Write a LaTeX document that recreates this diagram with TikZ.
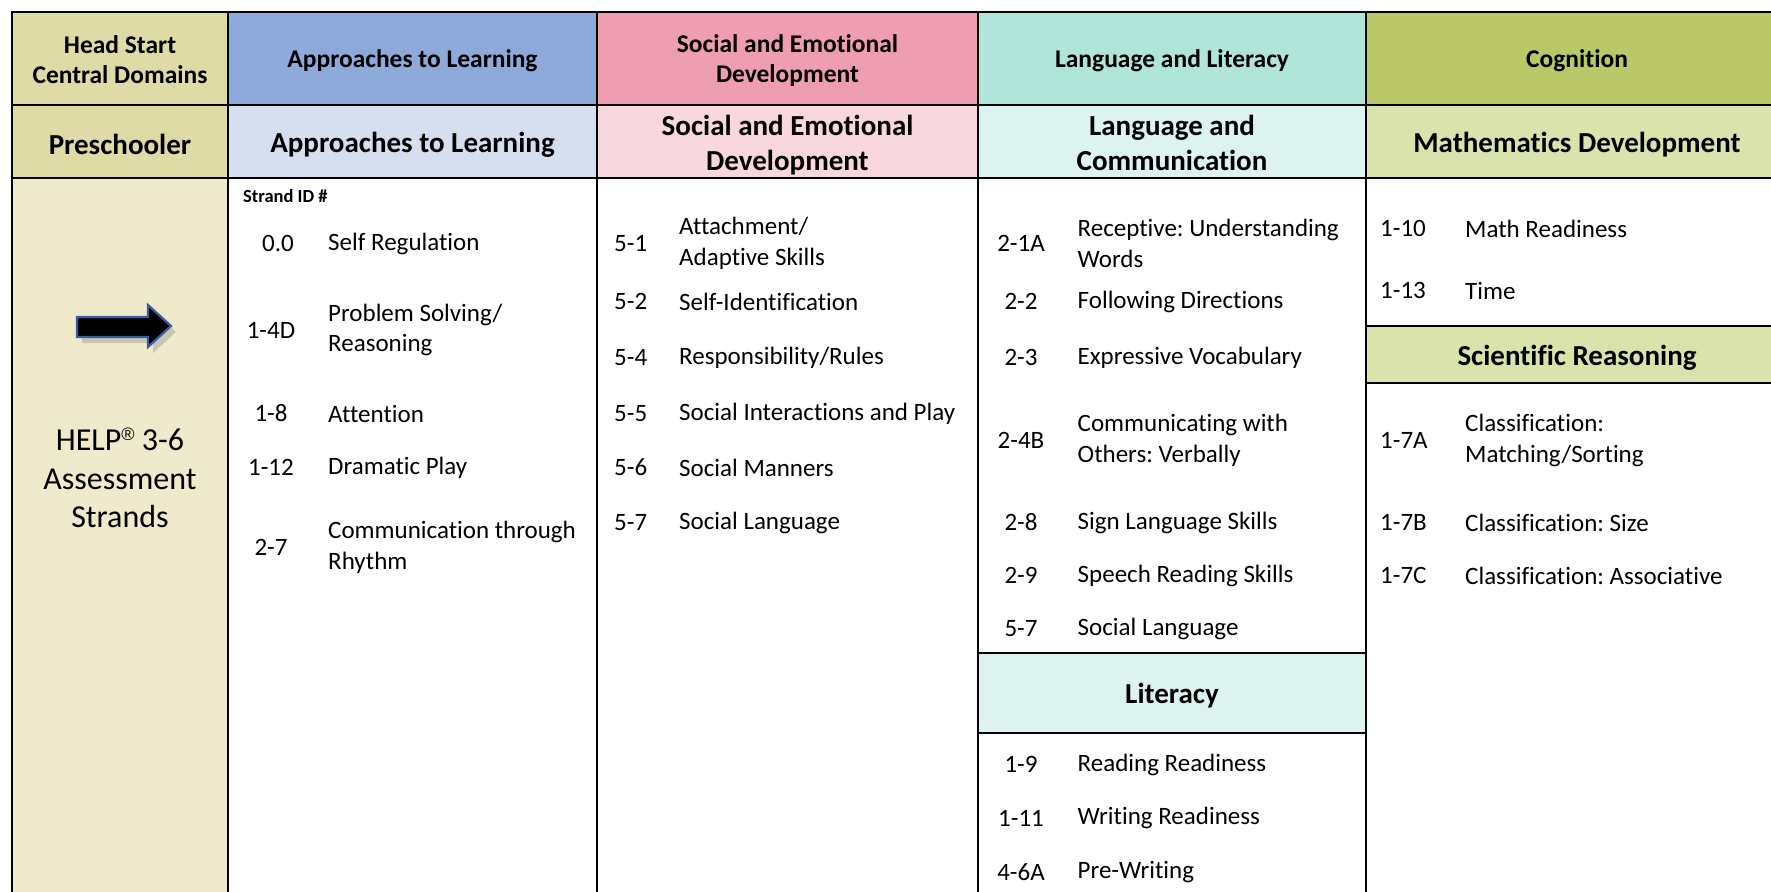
\documentclass[tikz,border=0pt]{standalone}
\usepackage{fontspec}
\setmainfont{Carlito}[Ligatures={NoCommon}]
\newfontfamily\regfont{Liberation Sans}
\frenchspacing
\definecolor{hsDark}{RGB}{223,219,166}
\definecolor{hsLight}{RGB}{238,234,203}
\definecolor{atlDark}{RGB}{142,170,219}
\definecolor{atlLight}{RGB}{214,223,240}
\definecolor{sedDark}{RGB}{239,157,176}
\definecolor{sedLight}{RGB}{248,215,223}
\definecolor{llDark}{RGB}{176,229,218}
\definecolor{llLight}{RGB}{220,243,239}
\definecolor{cogDark}{RGB}{187,200,103}
\definecolor{cogLight}{RGB}{219,227,173}
\definecolor{arrowBlue}{RGB}{58,92,160}
\newcommand{\mkcell}[8]{%
  \filldraw[grid, fill=#6] (#2,#3) rectangle (#4,#5);
  \node[ctext, #7] (#1) at ({(#2+#4)/2},{(#3+#5)/2}) {#8};}
\begin{document}
\begin{tikzpicture}[x=1pt,y=-1pt,
  grid/.style={draw=black, line width=2.2pt},
  ctext/.style={align=center, inner sep=0pt},
  hA/.style={font=\fontsize{25.5}{30.5}\selectfont\bfseries, yshift=-2pt},
  hB/.style={font=\fontsize{29}{35}\selectfont\bfseries, yshift=-3pt},
  sid/.style={inner sep=0pt, font=\fontsize{25}{30.5}\selectfont},
  stxt/.style={anchor=west, align=left, inner sep=0pt, font=\fontsize{25}{30.5}\selectfont}]
\useasboundingbox (0,0) rectangle (1771,891);
\fill[white] (0,0) rectangle (1771,891);
% header row 1
\mkcell{h1}{12}{12}{228}{105}{hsDark}{hA, yshift=1pt}{Head Start\\Central Domains}
\mkcell{h2}{228}{12}{597}{105}{atlDark}{hA}{Approaches to Learning}
\mkcell{h3}{597}{12}{978}{105}{sedDark}{hA}{Social and Emotional\\Development}
\mkcell{h4}{978}{12}{1366}{105}{llDark}{hA}{Language and Literacy}
\mkcell{h5}{1366}{12}{1788}{105}{cogDark}{hA}{Cognition}
% header row 2
\mkcell{p1}{12}{105}{228}{178}{hsDark}{hB}{Preschooler}
\mkcell{p2}{228}{105}{597}{178}{atlLight}{hB}{Approaches to Learning}
\mkcell{p3}{597}{105}{978}{178}{sedLight}{hB, yshift=-1pt}{Social and Emotional\\Development}
\mkcell{p4}{978}{105}{1366}{178}{llLight}{hB, yshift=1.5pt}{Language and\\Communication}
\mkcell{p5}{1366}{105}{1788}{178}{cogLight}{hB}{Mathematics Development}
% body
\filldraw[grid, fill=hsLight] (12,178) rectangle (228,900);
\filldraw[grid, fill=white] (228,178) rectangle (597,900);
\filldraw[grid, fill=white] (597,178) rectangle (978,900);
\filldraw[grid, fill=white] (978,178) rectangle (1366,900);
\filldraw[grid, fill=white] (1366,178) rectangle (1788,900);
\mkcell{sci}{1366}{326}{1788}{383}{cogLight}{hB}{Scientific Reasoning}
\mkcell{lit}{978}{653}{1366}{733}{llLight}{hB}{Literacy}
% column 1
\node[ctext, font=\fontsize{32}{38.5}\selectfont] (help) at (120,478) {HELP\raisebox{0.33em}{\regfont\fontsize{18}{18}\selectfont\textregistered} 3-6\\Assessment\\Strands};
\fill[black!55, opacity=0.3] (82,323) -- (153,323) -- (153,311) -- (176,332) -- (153,353) -- (153,343) -- (82,343) -- cycle;
\filldraw[draw=arrowBlue, line width=2.2pt, fill=black, line join=miter] (77,317) -- (148,317) -- (148,305) -- (171,326) -- (148,347) -- (148,337) -- (77,337) -- cycle;
\begin{scope}[yshift=-2.5pt]
% column 2
\node[anchor=west, inner sep=0pt, font=\fontsize{18.5}{22}\selectfont\bfseries] (sidh) at (243,194) {Strand ID \#};
\node[sid] (a1) at (278,241) {0.0};   \node[stxt] (a1t) at (328,241) {Self Regulation};
\node[sid] (a2) at (271,327.5) {1-4D}; \node[stxt] (a2t) at (328,327.5) {Problem Solving/\\Reasoning};
\node[sid] (a3) at (271,411) {1-8};   \node[stxt] (a3t) at (328,411) {Attention};
\node[sid] (a4) at (271,465) {1-12};  \node[stxt] (a4t) at (328,465) {Dramatic Play};
\node[sid] (a5) at (271,545) {2-7};   \node[stxt] (a5t) at (328,545) {Communication through\\Rhythm};
% column 3
\node[sid, anchor=west] (s1) at (614,241) {5-1}; \node[stxt] (s1t) at (679,241) {Attachment/\\Adaptive Skills};
\node[sid, anchor=west] (s2) at (614,299) {5-2}; \node[stxt] (s2t) at (679,299) {Self-Identification};
\node[sid, anchor=west] (s3) at (614,355) {5-4}; \node[stxt] (s3t) at (679,355) {Responsibility/Rules};
\node[sid, anchor=west] (s4) at (614,411) {5-5}; \node[stxt] (s4t) at (679,411) {Social Interactions and Play};
\node[sid, anchor=west] (s5) at (614,465) {5-6}; \node[stxt] (s5t) at (679,465) {Social Manners};
\node[sid, anchor=west] (s6) at (614,520) {5-7}; \node[stxt] (s6t) at (679,520) {Social Language};
% column 4
\node[sid] (l1) at (1021,241) {2-1A}; \node[stxt] (l1t) at (1077.5,241) {Receptive: Understanding\\Words};
\node[sid] (l2) at (1021,299) {2-2};  \node[stxt] (l2t) at (1077.5,299) {Following Directions};
\node[sid] (l3) at (1021,355) {2-3};  \node[stxt] (l3t) at (1077.5,355) {Expressive Vocabulary};
\node[sid] (l4) at (1021,438) {2-4B}; \node[stxt] (l4t) at (1077.5,438) {Communicating with\\Others: Verbally};
\node[sid] (l5) at (1021,520) {2-8};  \node[stxt] (l5t) at (1077.5,520) {Sign Language Skills};
\node[sid] (l6) at (1021,573) {2-9};  \node[stxt] (l6t) at (1077.5,573) {Speech Reading Skills};
\node[sid] (l7) at (1021,626) {5-7};  \node[stxt] (l7t) at (1077.5,626) {Social Language};
\node[sid] (l8) at (1021,762) {1-9};  \node[stxt] (l8t) at (1077.5,762) {Reading Readiness};
\node[sid] (l9) at (1021,815.5) {1-11}; \node[stxt] (l9t) at (1077.5,815.5) {Writing Readiness};
\node[sid] (l10) at (1021,870) {4-6A}; \node[stxt] (l10t) at (1077.5,870) {Pre-Writing};
% column 5
\node[sid, anchor=west] (c1) at (1380,226) {1-10}; \node[stxt] (c1t) at (1465,226) {Math Readiness};
\node[sid, anchor=west] (c2) at (1380,288) {1-13}; \node[stxt] (c2t) at (1465,288) {Time};
\node[sid, anchor=west] (c3) at (1380,438) {1-7A}; \node[stxt] (c3t) at (1465,438) {Classification:\\Matching/Sorting};
\node[sid, anchor=west] (c4) at (1380,520) {1-7B}; \node[stxt] (c4t) at (1465,520) {Classification: Size};
\node[sid, anchor=west] (c5) at (1380,573) {1-7C}; \node[stxt] (c5t) at (1465,573) {Classification: Associative};
\end{scope}
\end{tikzpicture}
\end{document}
